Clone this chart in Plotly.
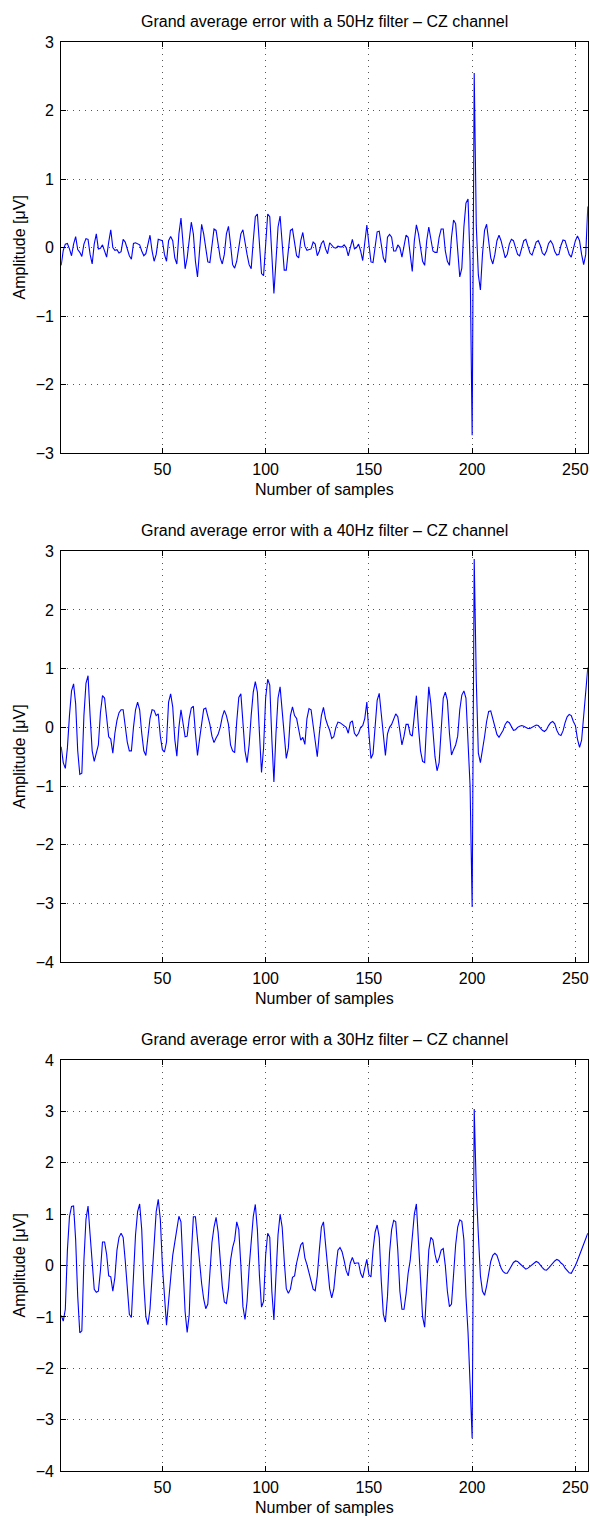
import plotly.graph_objects as go

W, H = 590, 1524

samples = list(range(1, 257))

err_50hz = [
    -0.26, -0.04, 0.05, 0.06, -0.02, -0.12, 0.05, 0.16, -0.03, -0.07,
    -0.13, 0.05, 0.13, 0.12, -0.10, -0.24, 0.05, 0.20, -0.02, -0.01,
    0.04, -0.05, -0.14, 0.08, 0.26, 0.00, -0.04, -0.03, -0.08, -0.06,
    0.12, 0.08, -0.02, -0.12, -0.17, 0.06, 0.07, 0.05, 0.04, -0.05,
    -0.12, -0.09, 0.05, 0.18, -0.05, -0.20, -0.10, 0.12, 0.11, 0.10,
    -0.10, -0.20, 0.10, 0.16, 0.10, -0.15, -0.24, 0.20, 0.43, 0.05,
    -0.31, -0.15, 0.15, 0.37, 0.20, -0.20, -0.43, -0.05, 0.34, 0.20,
    -0.05, -0.21, -0.22, 0.05, 0.27, 0.25, 0.05, -0.15, -0.24, -0.10,
    0.20, 0.31, 0.05, -0.25, -0.30, -0.20, 0.00, 0.20, 0.26, 0.05,
    -0.10, -0.25, -0.31, 0.10, 0.45, 0.49, 0.00, -0.38, -0.41, 0.10,
    0.49, 0.45, -0.10, -0.67, -0.20, 0.30, 0.46, 0.10, -0.33, -0.33,
    0.00, 0.25, 0.27, 0.05, -0.12, -0.15, 0.10, 0.22, 0.02, -0.04,
    -0.03, -0.02, 0.08, 0.05, -0.12, -0.05, 0.06, 0.10, -0.02, -0.09,
    0.07, 0.04, 0.00, -0.01, 0.02, 0.01, 0.01, 0.04, 0.00, -0.12,
    0.00, 0.12, -0.02, 0.00, 0.05, -0.05, -0.19, 0.10, 0.33, 0.05,
    -0.21, -0.22, 0.00, 0.23, 0.24, 0.05, -0.15, -0.22, 0.15, 0.19,
    0.15, -0.05, -0.05, 0.04, 0.00, -0.14, 0.05, 0.18, 0.15, -0.15,
    -0.35, 0.10, 0.33, 0.20, 0.00, -0.20, -0.26, 0.10, 0.30, 0.15,
    -0.05, -0.07, -0.07, 0.15, 0.27, 0.27, -0.05, -0.20, -0.26, 0.15,
    0.40, 0.35, -0.10, -0.43, -0.30, 0.30, 0.65, 0.71, -0.20, -2.74,
    2.55, 0.32, -0.40, -0.62, -0.10, 0.25, 0.34, 0.10, -0.15, -0.24,
    -0.10, 0.10, 0.18, 0.10, -0.05, -0.15, -0.10, 0.05, 0.12, 0.10,
    0.00, -0.10, -0.12, -0.02, 0.10, 0.12, 0.02, -0.08, -0.11, -0.03,
    0.08, 0.10, 0.03, -0.08, -0.11, -0.05, 0.06, 0.10, 0.05, -0.06,
    -0.11, -0.10, 0.03, 0.11, 0.10, 0.00, -0.10, -0.14, -0.02, 0.10,
    0.17, 0.10, -0.10, -0.25, -0.10, 0.60,
]

err_40hz = [
    -0.33, -0.60, -0.70, -0.35, 0.20, 0.62, 0.74, 0.40, -0.40, -0.80,
    -0.78, 0.20, 0.75, 0.88, 0.20, -0.40, -0.58, -0.45, -0.30, 0.25,
    0.54, 0.50, 0.10, -0.16, -0.20, -0.44, -0.10, 0.12, 0.25, 0.30,
    0.30, 0.00, -0.25, -0.40, -0.40, 0.00, 0.30, 0.43, 0.30, -0.10,
    -0.40, -0.48, -0.10, 0.15, 0.30, 0.29, 0.20, 0.23, -0.15, -0.38,
    -0.42, -0.25, 0.43, 0.57, 0.35, -0.20, -0.49, 0.00, 0.30, 0.05,
    -0.16, -0.15, 0.15, 0.33, 0.36, -0.10, -0.48, -0.20, 0.10, 0.31,
    0.33, 0.20, 0.05, -0.15, -0.26, -0.18, -0.12, 0.00, 0.18, 0.29,
    0.20, 0.05, -0.30, -0.40, -0.43, 0.10, 0.51, 0.57, 0.00, -0.40,
    -0.60, -0.30, 0.20, 0.60, 0.78, 0.60, -0.10, -0.77, -0.35, 0.50,
    0.82, 0.72, -0.20, -0.93, -0.11, 0.50, 0.69, 0.30, -0.20, -0.53,
    -0.35, 0.20, 0.35, 0.20, 0.15, -0.05, -0.22, -0.17, -0.29, 0.15,
    0.32, 0.30, 0.05, -0.25, -0.50, -0.10, 0.20, 0.34, 0.15, 0.04,
    -0.05, -0.19, -0.16, 0.00, 0.09, 0.08, 0.05, 0.02, 0.00, -0.10,
    0.08, 0.11, -0.10, -0.15, -0.10, 0.00, 0.03, 0.15, 0.43, -0.10,
    -0.53, -0.45, 0.10, 0.46, 0.58, 0.25, -0.20, -0.48, -0.11, 0.00,
    0.05, 0.15, 0.23, 0.18, -0.10, -0.30, -0.15, 0.05, 0.05, -0.12,
    -0.15, 0.25, 0.54, 0.00, -0.40, -0.58, -0.60, 0.10, 0.69, 0.40,
    0.00, -0.50, -0.74, -0.60, -0.05, 0.50, 0.60, 0.46, -0.10, -0.47,
    -0.38, -0.30, -0.15, 0.30, 0.55, 0.62, 0.50, -0.28, -1.00, -3.06,
    2.87, 0.80, -0.44, -0.60, -0.40, -0.16, 0.10, 0.27, 0.28, 0.15,
    0.00, -0.12, -0.17, -0.10, -0.05, 0.05, 0.10, 0.08, 0.00, -0.05,
    -0.04, 0.00, 0.02, 0.03, 0.02, 0.00, -0.02, -0.02, 0.00, 0.03,
    0.04, 0.03, -0.01, -0.05, -0.07, -0.04, 0.03, 0.08, 0.10, 0.06,
    -0.05, -0.12, -0.14, -0.06, 0.08, 0.18, 0.22, 0.20, 0.10, 0.03,
    -0.20, -0.34, -0.22, 0.20, 0.55, 1.02,
]

err_30hz = [
    -0.97, -1.08, -0.85, 0.30, 0.95, 1.15, 1.16, 0.50, -0.60, -1.31,
    -1.27, 0.10, 0.90, 1.16, 0.60, -0.04, -0.46, -0.52, -0.50, -0.10,
    0.46, 0.46, 0.22, -0.20, -0.22, -0.50, -0.23, 0.30, 0.55, 0.63,
    0.55, 0.10, -0.40, -0.95, -1.01, -0.20, 0.60, 1.05, 1.20, 0.70,
    -0.35, -1.00, -1.15, -0.85, -0.20, 0.50, 1.05, 1.29, 0.90, 0.00,
    -0.70, -1.16, -0.70, -0.20, 0.20, 0.45, 0.70, 0.96, 0.85, -0.04,
    -0.90, -1.30, -0.95, 0.20, 0.95, 0.95, 0.50, 0.00, -0.35, -0.65,
    -0.84, -0.75, -0.05, 0.45, 0.75, 0.94, 0.65, 0.10, -0.40, -0.71,
    -0.74, -0.45, 0.10, 0.35, 0.50, 0.85, 0.70, 0.00, -0.80, -1.05,
    -0.70, -0.04, 0.55, 0.95, 1.19, 0.70, -0.20, -0.81, -0.70, 0.20,
    0.63, 0.55, -0.50, -1.06, -0.20, 0.60, 1.00, 0.75, 0.10, -0.45,
    -0.54, -0.46, -0.23, -0.20, 0.05, 0.25, 0.40, 0.45, 0.15, 0.02,
    -0.15, -0.35, -0.46, -0.49, -0.20, 0.30, 0.75, 0.85, 0.45, -0.05,
    -0.45, -0.63, -0.46, -0.05, 0.30, 0.35, 0.27, 0.10, -0.10, -0.20,
    0.05, 0.16, 0.04, 0.05, 0.05, -0.15, -0.24, -0.05, 0.12, -0.18,
    -0.22, 0.30, 0.65, 0.79, 0.55, -0.30, -0.95, -1.10, -0.60, 0.25,
    0.70, 0.88, 0.85, 0.30, -0.50, -0.85, -0.85, -0.55, -0.15, 0.10,
    0.50, 1.00, 1.20, 0.50, -0.45, -1.00, -1.20, -0.35, 0.30, 0.55,
    0.50, 0.22, 0.05, 0.15, 0.30, 0.33, 0.00, -0.50, -0.80, -0.75,
    -0.15, 0.40, 0.75, 0.89, 0.86, 0.50, -0.60, -1.30, -2.30, -3.36,
    3.05, 1.50, 0.60, -0.20, -0.50, -0.58, -0.40, -0.12, 0.08, 0.20,
    0.24, 0.20, 0.08, -0.05, -0.12, -0.15, -0.15, -0.08, 0.00, 0.06,
    0.09, 0.08, 0.04, 0.00, -0.04, -0.07, -0.05, -0.02, 0.01, 0.05,
    0.08, 0.06, 0.00, -0.04, -0.08, -0.09, -0.05, 0.00, 0.04, 0.09,
    0.12, 0.10, 0.05, 0.02, -0.05, -0.10, -0.14, -0.15, -0.08, 0.00,
    0.10, 0.20, 0.30, 0.42, 0.52, 0.63,
]

titles = [
    "Grand average error with a 50Hz filter \u2013 CZ channel",
    "Grand average error with a 40Hz filter \u2013 CZ channel",
    "Grand average error with a 30Hz filter \u2013 CZ channel",
]
x_label = "Number of samples"
y_label = "Amplitude [\u03bcV]"
x_ticks = [50, 100, 150, 200, 250]
y_ticks = [
    [-3, -2, -1, 0, 1, 2, 3],
    [-4, -3, -2, -1, 0, 1, 2, 3],
    [-4, -3, -2, -1, 0, 1, 2, 3, 4],
]
series = [err_50hz, err_40hz, err_30hz]

# ---- layout geometry (pixels) ----
X_LEFT, X_RIGHT = 61.3, 588.8
TOPS = [34.5, 549.4, 1064.0]
PH = 415.5
FONT = "Liberation Sans, Arial, Helvetica, sans-serif"
FS = 16

fig = go.Figure()
annotations = []
layout = {}

for i in range(3):
    sfx = "" if i == 0 else str(i + 1)
    top = TOPS[i]
    bot = top + PH
    fig.add_trace(go.Scatter(
        x=samples, y=series[i], mode="lines",
        line=dict(color="#0000ff", width=1.1),
        xaxis="x" + sfx, yaxis="y" + sfx, showlegend=False,
    ))
    common = dict(
        showline=True, linecolor="black", linewidth=1.2, mirror="allticks",
        ticks="inside", ticklen=5, tickcolor="black", tickwidth=1,
        showgrid=True, gridcolor="#555555", griddash="1px,5px", gridwidth=1,
        zeroline=False, tickfont=dict(family=FONT, size=FS, color="black"),
    )
    layout["xaxis" + sfx] = dict(
        common, domain=[X_LEFT / W, X_RIGHT / W], range=[1, 256],
        tickmode="array", tickvals=x_ticks, anchor="y" + sfx,
        ticklabelstandoff=2,
    )
    yt = y_ticks[i]
    layout["yaxis" + sfx] = dict(
        common, domain=[1 - bot / H, 1 - top / H], range=[yt[0], yt[-1]],
        tickmode="array", tickvals=yt, anchor="x" + sfx,
        ticklabelstandoff=3,
    )
    cx = (X_LEFT + X_RIGHT) / 2 / W
    annotations.append(dict(
        text=titles[i], xref="paper", yref="paper", x=cx, y=1 - (top - 21) / H,
        xanchor="center", yanchor="middle", showarrow=False,
        font=dict(family=FONT, size=FS, color="black"),
    ))
    annotations.append(dict(
        text=x_label, xref="paper", yref="paper", x=cx, y=1 - (bot + 37) / H,
        xanchor="center", yanchor="middle", showarrow=False,
        font=dict(family=FONT, size=FS, color="black"),
    ))
    annotations.append(dict(
        text=y_label, xref="paper", yref="paper", x=20 / W,
        y=1 - (top + PH / 2) / H, xanchor="center", yanchor="middle",
        textangle=-90, showarrow=False,
        font=dict(family=FONT, size=FS, color="black"),
    ))

fig.update_layout(
    width=W, height=H, autosize=False,
    margin=dict(l=0, r=0, t=0, b=0),
    paper_bgcolor="white", plot_bgcolor="white",
    annotations=annotations, showlegend=False,
    font=dict(family=FONT, size=FS, color="black"),
    **layout,
)

fig.write_html("out.html")
